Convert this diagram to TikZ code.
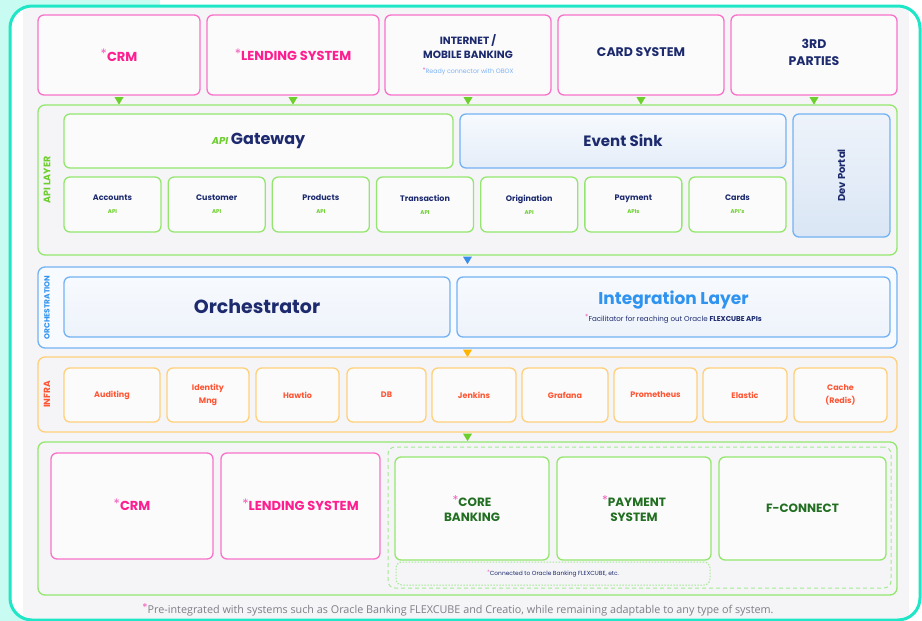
\documentclass[tikz,border=0pt]{standalone}
\usepackage{fontspec}
\setmainfont{Poppins}
\newfontfamily\notefont{Open Sans}
\usepackage{tikz}

\definecolor{cyanbg}{HTML}{C8FBF1}
\definecolor{tealframe}{HTML}{1EE6C6}
\definecolor{panelgrey}{HTML}{F5F5F7}
\definecolor{boxfill}{HTML}{FBFBFC}
\definecolor{pinkline}{HTML}{F972C9}
\definecolor{pinktext}{HTML}{FF1E90}
\definecolor{starpink}{HTML}{F25CB9}
\definecolor{navytext}{HTML}{1D2B6E}
\definecolor{greenline}{HTML}{94E66E}
\definecolor{greentext}{HTML}{6CCF2C}
\definecolor{darkgreen}{HTML}{226F22}
\definecolor{blueline}{HTML}{73B2F4}
\definecolor{bluetext}{HTML}{2F93F0}
\definecolor{lightbluetext}{HTML}{7DB3F5}
\definecolor{bluetri}{HTML}{3A8EEA}
\definecolor{bluetop}{HTML}{F7FAFE}
\definecolor{bluebottom}{HTML}{E4EDF8}
\definecolor{portaltop}{HTML}{EEF3FA}
\definecolor{portalbottom}{HTML}{DAE6F5}
\definecolor{orchbottom}{HTML}{EEF3FB}
\definecolor{orangeline}{HTML}{FFD07A}
\definecolor{orangetext}{HTML}{FF5533}
\definecolor{orangetri}{HTML}{FFB400}
\definecolor{notegrey}{HTML}{7E7E86}
\definecolor{dashgreen}{HTML}{A5E894}

\newcommand{\pstar}{\textcolor{starpink}{\raisebox{0.35ex}{\normalfont *}}}
\newcommand{\fs}[2]{\fontsize{#1}{#2}\selectfont}

\begin{document}
\begin{tikzpicture}
		[
		x=1pt, y=-1pt,
		box/.style = {draw, rounded corners=6pt, line width=1.3pt, fill=boxfill, align=center, inner sep=0pt},
		sysbox/.style = {box, draw=pinkline, text=pinktext, font=\fs{13}{15}\bfseries},
		extbox/.style = {box, draw=pinkline, text=navytext, font=\fs{12.5}{17}\bfseries},
		layer/.style = {draw, rounded corners=7pt, line width=1.3pt, inner sep=0pt},
		layerlabel/.style = {rotate=90, font=\bfseries, inner sep=0pt},
		bluebox/.style = {box, draw=blueline, top color=bluetop, bottom color=bluebottom, text=navytext},
		apibox/.style = {box, draw=greenline, text=navytext, font=\fs{8}{13}\bfseries, minimum width=97pt, minimum height=55pt},
		infrabox/.style = {box, draw=orangeline, text=orangetext, font=\fs{8}{13}\bfseries, minimum height=54pt},
		corebox/.style = {box, draw=greenline, text=darkgreen, font=\fs{12}{15}\bfseries, minimum height=103pt}
		]
		
		\useasboundingbox (0,0) rectangle (922,621);
		\fill[white] (0,0) rectangle (922,621);
		\fill[cyanbg] (0,0) rectangle (160,621);
		\fill[white, rounded corners=22pt] (10,6) rectangle (920,620);
		\begin{scope}
			\clip[rounded corners=22pt] (10,6) rectangle (920,620);
			\fill[panelgrey] (23,8) rectangle (909,621);
		\end{scope}
		\draw[tealframe, line width=3pt, rounded corners=22pt] (10,6) rectangle (920,620);
		
		% systems on top
		\node[sysbox, minimum width=162pt, minimum height=80pt] (crmtop) at (119,55) {\pstar CRM};
		\node[sysbox, minimum width=172pt, minimum height=80pt] (lendtop) at (293,55) {\pstar LENDING SYSTEM};
		\node[extbox, minimum width=166pt, minimum height=80pt, font=\fs{10.5}{14}\bfseries] (banktop) at (468,55)
			{INTERNET /\\MOBILE BANKING\\[1pt]{\fs{6.3}{8}\mdseries\color{lightbluetext}\pstar Ready connector with OBOX}};
		\node[extbox, minimum width=166pt, minimum height=80pt] (cardtop) at (641,55) {CARD SYSTEM\\[-12pt]};
		\node[extbox, minimum width=166pt, minimum height=80pt] (thirdtop) at (814,55) {3RD\\PARTIES\\[-12pt]};
		
		\foreach \n in {crmtop,lendtop,banktop,cardtop,thirdtop}
			\fill[greentext] (\n.south) ++(-4.5,1.5) -- ++(9,0) -- ++(-4.5,7.5) -- cycle;
		
		% api layer
		\node[layer, draw=greenline, minimum width=859pt, minimum height=150pt] (apilayer) at (467.5,180) {};
		\node[layerlabel, text=greentext, font=\fs{9.5}{11}\bfseries] (apilabel) at (47,180) {API LAYER};
		\node[box, draw=greenline, minimum width=389pt, minimum height=54pt, text=navytext, font=\fs{16}{18}\bfseries] (gateway) at (258.5,141)
			{{\fs{10}{12}\itshape\color{greentext}API}\,Gateway};
		\node[bluebox, minimum width=326pt, minimum height=54pt, font=\fs{15}{18}\bfseries] (eventsink) at (623,141) {Event Sink};
		\node[bluebox, minimum width=97pt, minimum height=123pt, top color=portaltop, bottom color=portalbottom] (devportal) at (841.5,175.5) {};
		\node[rotate=90, text=navytext, font=\fs{10}{12}\bfseries] (devlabel) at (devportal) {Dev Portal};
		\foreach \nm/\t/\s [count=\i from 0] in {accounts/Accounts/API, customer/Customer/API, products/Products/API,
				transaction/Transaction/API, origination/Origination/API, payment/Payment/APIs, cards/Cards/API's}
			\node[apibox] (\nm) at (112.5+104.17*\i,204.5) {\t\\{\fs{5.5}{6}\color{greentext}\s}};
		\fill[bluetri] (apilayer.south) ++(-4.5,1) -- ++(9,0) -- ++(-4.5,7.5) -- cycle;
		
		% orchestration
		\node[layer, draw=blueline, fill=bluetop, minimum width=859pt, minimum height=81pt] (orchlayer) at (467.5,307.5) {};
		\node[layerlabel, text=bluetext, font=\fs{7.5}{9}\bfseries] (orchlabel) at (47,307.5) {ORCHESTRATION};
		\node[bluebox, minimum width=386pt, minimum height=60pt, font=\fs{19}{22}\bfseries, bottom color=orchbottom] (orchestrator) at (257,307) {Orchestrator};
		\node[bluebox, minimum width=433pt, minimum height=60pt, text=bluetext, font=\fs{17}{20}\bfseries, bottom color=orchbottom] (integration) at (673.5,307)
			{Integration Layer\\[-3pt]{\fs{7.1}{8}\mdseries\color{navytext}\pstar Facilitator for reaching out Oracle \textbf{FLEXCUBE APIs}}};
		\fill[orangetri] (orchlayer.south) ++(-4.5,1) -- ++(9,0) -- ++(-4.5,7.5) -- cycle;
		
		% infra
		\node[layer, draw=orangeline, minimum width=859pt, minimum height=75pt] (infralayer) at (467.5,394.5) {};
		\node[layerlabel, text=orangetext, font=\fs{9}{11}\bfseries] (infralabel) at (47,394.5) {INFRA};
		\foreach \nm/\l/\r/\t in {auditing/64/160/Auditing, identity/167/249/{Identity\\Mng}, hawtio/256/339/Hawtio,
				db/347/426/DB, jenkins/432/516/Jenkins, grafana/522/608/Grafana, prometheus/614/697/Prometheus,
				elastic/703/787/Elastic, cache/794/887/{Cache\\(Redis)}}
		{
			\pgfmathsetmacro\w{\r-\l}
			\pgfmathsetmacro\c{(\r+\l)/2}
			\node[infrabox, minimum width=\w pt] (\nm) at (\c,395) {\t};
		}
		\fill[greentext] (infralayer.south) ++(-4.5,1) -- ++(9,0) -- ++(-4.5,7.5) -- cycle;
		
		% core systems
		\node[layer, draw=greenline, minimum width=859pt, minimum height=153pt] (corelayer) at (467.5,518.5) {};
		\node[sysbox, minimum width=162pt, minimum height=106pt] (crmbot) at (132,506) {\pstar CRM\\[-12pt]};
		\node[sysbox, minimum width=159pt, minimum height=106pt] (lendbot) at (300.5,506) {\pstar LENDING SYSTEM\\[-12pt]};
		\node[layer, draw=dashgreen, dashed, dash pattern=on 4pt off 3pt, line width=1pt, minimum width=503pt, minimum height=141pt] (connected) at (639.5,517.5) {};
		\node[corebox, minimum width=154pt] (corebanking) at (472,508.5) {\pstar CORE\\BANKING};
		\node[corebox, minimum width=154pt] (paysystem) at (634,508.5) {\pstar PAYMENT\\SYSTEM};
		\node[corebox, minimum width=167pt] (fconnect) at (802.5,508.5) {F-CONNECT};
		\node[layer, draw=dashgreen, dash pattern=on 1.5pt off 1.5pt, line width=1pt, rounded corners=6pt, minimum width=314pt, minimum height=23pt,
			font=\fs{5.9}{7}, text=navytext] (flexnote) at (553,573.5) {\pstar Connected to Oracle Banking FLEXCUBE, etc.};
		
		\node[text=notegrey, font=\notefont\fs{10.8}{12}] (footnote) at (458,610)
			{\pstar Pre-integrated with systems such as Oracle Banking FLEXCUBE and Creatio, while remaining adaptable to any type of system.};
		
		\end{tikzpicture}
\end{document}
